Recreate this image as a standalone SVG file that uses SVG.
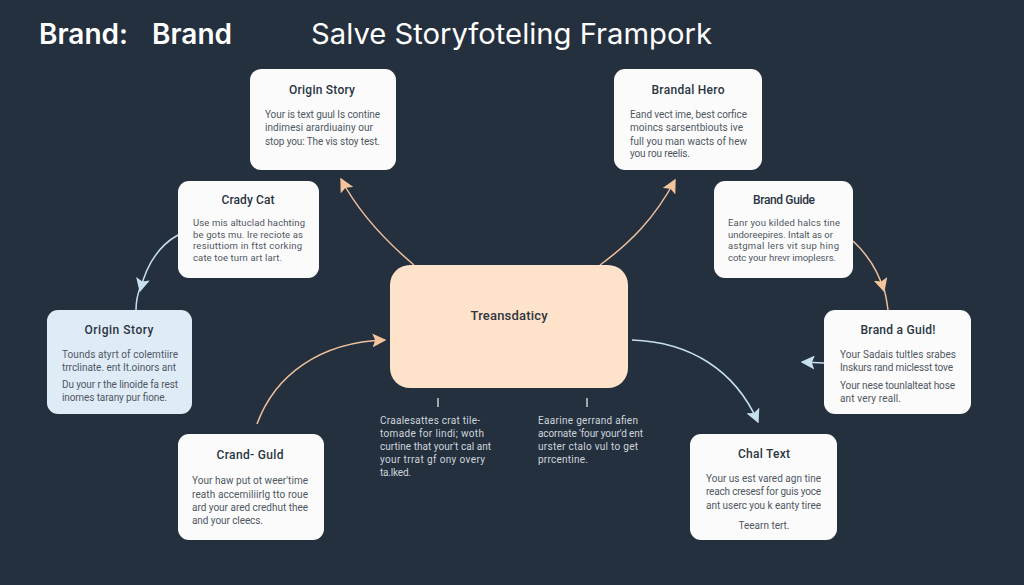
<svg xmlns="http://www.w3.org/2000/svg" width="1024" height="585" viewBox="0 0 1024 585">
<style>
text{font-family:Roboto,"Liberation Sans",sans-serif}
.card{fill:#fbfbfb}
.t{font-size:12px;font-weight:500;fill:#2a3442;text-anchor:middle}
.b{font-size:10px;fill:#4f5862}
.s{font-size:9.5px;fill:#4f5862}
.h{font-family:Inter,Roboto,sans-serif;font-size:28px;font-weight:600;fill:#fff}
.h2{font-family:Inter,Roboto,sans-serif;font-size:28px;font-weight:400;fill:#fff}
.c{fill:none;stroke-width:1.5}
.p{stroke:#eec09b}
.l{stroke:#c6e0f0}
.u{font-size:10px;fill:#cdd5db}
</style>
<defs>
<marker id="ap" viewBox="0 0 10 10" refX="9" refY="5" markerWidth="14" markerHeight="14" markerUnits="userSpaceOnUse" orient="auto"><path d="M0 0L10 5L0 10L2 5Z" fill="#f4c49c"/></marker>
<marker id="al" viewBox="0 0 10 10" refX="9" refY="5" markerWidth="14" markerHeight="14" markerUnits="userSpaceOnUse" orient="auto"><path d="M0 0L10 5L0 10L2 5Z" fill="#c6e0f0"/></marker>
</defs>
<rect width="1024" height="585" fill="#25303f"/>
<text class="h" x="39" y="44">Brand:<tspan x="152">Brand</tspan></text>
<text class="h2" x="311" y="44" textLength="401" lengthAdjust="spacingAndGlyphs">Salve Storyfoteling Frampork</text>
<g id="connectors">
<path class="c p" d="M414 265C388 243 360 215 341 179" marker-end="url(#ap)"/>
<path class="c p" d="M600 265C630 243 655 218 675 180" marker-end="url(#ap)"/>
<path class="c l" d="M178 235C160 245 147 262 140 291" marker-end="url(#al)"/>
<path class="c l" d="M140 288C137 296 136 302 136 310"/>
<path class="c p" d="M853 241C868 255 878 270 884 291" marker-end="url(#ap)"/>
<path class="c p" d="M883 286C886 294 887 302 888 310"/>
<path class="c l" d="M824 363L802 362" marker-end="url(#al)"/>
<path class="c l" d="M632 340C690 342 735 370 758 422" marker-end="url(#al)"/>
<path class="c p" d="M257 424C275 375 320 342 385 340" marker-end="url(#ap)"/>
<path class="c" stroke="#c9ced3" d="M438 398V407M587 398V407"/>
</g>
<g id="center"><rect x="390" y="265" width="238" height="123" rx="20" fill="#fee2c9"/><text x="509" y="320" font-size="13" font-weight="500" fill="#2e3640" text-anchor="middle" textLength="77">Treansdaticy</text></g>
<g id="n1"><rect class="card" x="250" y="69" width="146" height="101" rx="11"/><text class="t" x="322" y="94" textLength="66">Origin Story</text>
<text class="b" x="265" y="118" textLength="115">Your is text guul Is contine</text><text class="b" x="265" y="131" textLength="108">indimesi arardiuainy our</text><text class="b" x="265" y="145" textLength="115">stop you: The vis stoy test.</text></g>
<g id="n2"><rect class="card" x="178" y="181" width="141" height="97" rx="11"/><text class="t" x="248" y="204" textLength="53">Crady Cat</text>
<text class="s" x="193" y="226" textLength="112">Use mis altuclad hachting</text><text class="s" x="193" y="237.5" textLength="110">be gots mu. lre reciote as</text><text class="s" x="193" y="249" textLength="109">resiuttiom in ftst corking</text><text class="s" x="193" y="260.5" textLength="89">cate toe turn art lart.</text></g>
<g id="n3"><rect class="card" x="614" y="69" width="148" height="101" rx="11"/><text class="t" x="688" y="94" textLength="73">Brandal Hero</text>
<text class="b" x="630" y="118" textLength="117">Eand vect ime, best corfice</text><text class="b" x="630" y="131" textLength="113">moincs sarsentbiouts ive</text><text class="b" x="630" y="145" textLength="117">full you man wacts of hew</text><text class="b" x="630" y="157" textLength="60">you rou reelis.</text></g>
<g id="n4"><rect class="card" x="714" y="181" width="139" height="97" rx="11"/><text class="t" x="784" y="204" textLength="62">Brand Guide</text>
<text class="s" x="728" y="226" textLength="112">Eanr you kilded halcs tine</text><text class="s" x="728" y="237.5" textLength="105">undoreepires. Intalt as or</text><text class="s" x="728" y="249" textLength="111">astgmal lers vit sup hing</text><text class="s" x="728" y="260.5" textLength="108">cotc your hrevr imoplesrs.</text></g>
<g id="n5"><rect x="47" y="310" width="145" height="104" rx="11" fill="#dfebf7"/><text class="t" x="119" y="334" textLength="69">Origin Story</text>
<text class="b" x="62" y="358" textLength="116">Tounds atyrt of colemtiire</text><text class="b" x="62" y="371" textLength="114">trrclinate. ent It.oinors ant</text><text class="b" x="62" y="388" textLength="116">Du your r the linoide fa rest</text><text class="b" x="62" y="401" textLength="105">inomes tarany pur fione.</text></g>
<g id="n6"><rect class="card" x="178" y="434" width="146" height="106" rx="11"/><text class="t" x="250" y="459" textLength="67">Crand- Guld</text>
<text class="b" x="192" y="484" textLength="116">Your haw put ot weer'time</text><text class="b" x="192" y="498" textLength="116">reath accemiliirlg tto roue</text><text class="b" x="192" y="511" textLength="116">ard your ared credhut thee</text><text class="b" x="192" y="524" textLength="71">and your cleecs.</text></g>
<g id="n7"><rect class="card" x="824" y="310" width="147" height="104" rx="11"/><text class="t" x="898" y="334" textLength="75">Brand a Guid!</text>
<text class="b" x="840" y="358" textLength="116">Your Sadais tultles srabes</text><text class="b" x="840" y="371" textLength="113">Inskurs rand miclesst tove</text><text class="b" x="840" y="389" textLength="115">Your nese tounlalteat hose</text><text class="b" x="840" y="402" textLength="61">ant very reall.</text></g>
<g id="n8"><rect class="card" x="690" y="434" width="147" height="106" rx="11"/><text class="t" x="764" y="458" textLength="52">Chal Text</text>
<text class="b" x="706" y="482" textLength="115">Your us est vared agn tine</text><text class="b" x="706" y="495" textLength="115">reach cresesf for guis yoce</text><text class="b" x="706" y="509" textLength="115">ant userc you k eanty tiree</text><text class="b" x="764" y="529" text-anchor="middle" textLength="51">Teearn tert.</text></g>
<g id="note-left">
<text class="u" x="380" y="424" textLength="100">Craalesattes crat tile-</text><text class="u" x="380" y="437" textLength="104">tomade for lindi; woth</text><text class="u" x="380" y="450" textLength="111">curtine that your't cal ant</text><text class="u" x="380" y="463" textLength="105">your trrat gf ony overy</text><text class="u" x="380" y="476" textLength="31">ta.lked.</text></g>
<g id="note-right">
<text class="u" x="538" y="424" textLength="100">Eaarine gerrand afien</text><text class="u" x="538" y="437" textLength="105">acornate 'four your'd ent</text><text class="u" x="538" y="450" textLength="100">urster ctalo vul to get</text><text class="u" x="538" y="463" textLength="50">prrcentine.</text></g>
</svg>
